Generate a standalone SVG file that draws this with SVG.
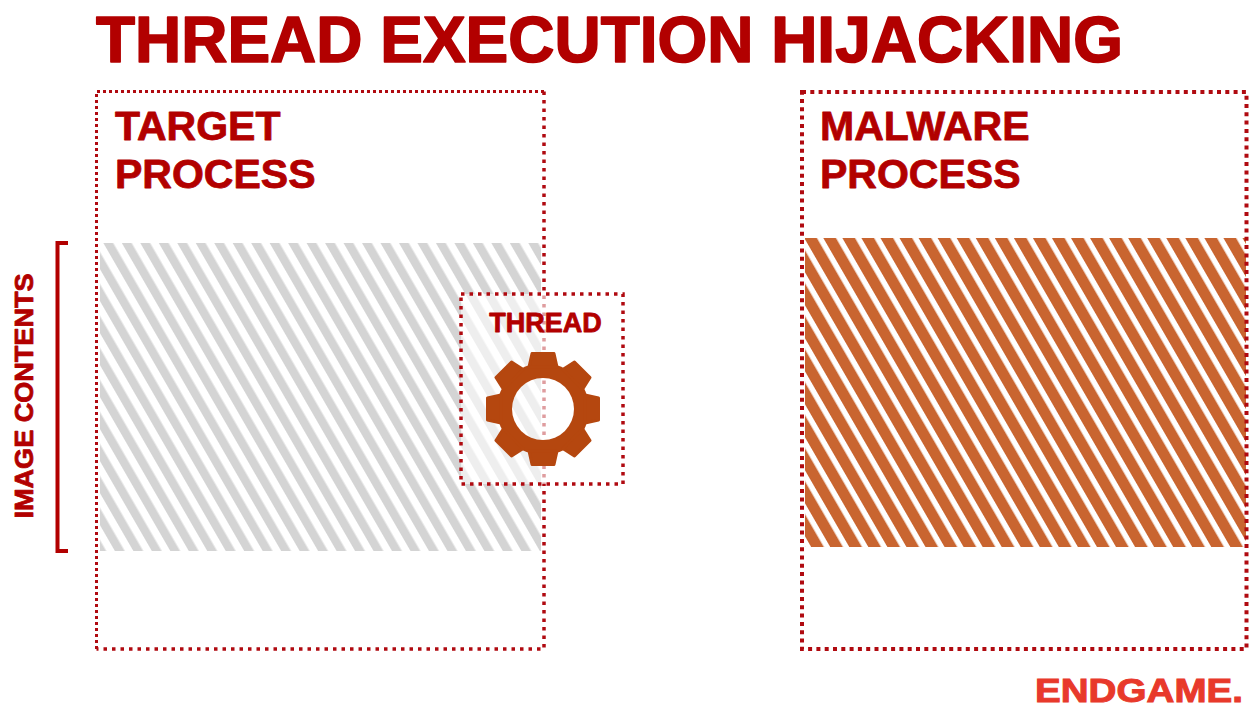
<svg xmlns="http://www.w3.org/2000/svg" width="1250" height="709" viewBox="0 0 1250 709">
  <style>
    .t { font-family: "Liberation Sans", Arial, sans-serif; font-weight: bold; fill: #b20000; stroke: #b20000; stroke-width: 0.8; stroke-linejoin: round; }
    .dotA { fill: none; stroke: #b00a10; stroke-width: 3; stroke-dasharray: 3 3; }
    .dotB { fill: none; stroke: #b00a10; stroke-width: 3.5; stroke-dasharray: 3.5 5; }
    .dotC { fill: none; stroke: #b00a10; stroke-width: 4; stroke-dasharray: 4 4.3; }
  </style>
  <defs>
    <pattern id="grayHatch" width="16" height="16" patternUnits="userSpaceOnUse" patternTransform="rotate(-30)">
      <rect x="0" y="0" width="8.5" height="16" fill="#d4d4d4"/>
    </pattern>
    <pattern id="orangeHatch" width="16.5" height="16" patternUnits="userSpaceOnUse" patternTransform="rotate(-30)">
      <rect x="0" y="0" width="11" height="16" fill="#c96530"/>
    </pattern>
    <mask id="gearHole" maskUnits="userSpaceOnUse" x="470" y="335" width="150" height="150">
      <rect x="470" y="335" width="150" height="150" fill="#fff"/>
      <circle cx="543" cy="409" r="31" fill="#000"/>
    </mask>
    <polygon id="tooth" points="-14,-42 -11,-55.5 11,-55.5 14,-42" fill="#b5470f" stroke="#b5470f" stroke-width="3" stroke-linejoin="round"/>
  </defs>

  <rect width="1250" height="709" fill="#fff"/>

  <text id="title" class="t" x="96" y="62" font-size="64" textLength="1027" lengthAdjust="spacingAndGlyphs" style="stroke-width:1.6">THREAD EXECUTION HIJACKING</text>

  <g id="image-contents">
    <path d="M68,243 H57.5 V551 H68" fill="none" stroke="#b20000" stroke-width="4"/>
    <text class="t" transform="translate(33,396) rotate(-90)" x="0" y="0" font-size="26" text-anchor="middle" textLength="245" lengthAdjust="spacingAndGlyphs">IMAGE CONTENTS</text>
  </g>

  <g id="target-process">
    <rect x="100" y="243" width="441" height="308" fill="url(#grayHatch)"/>
    <path class="dotA" d="M96.5,649 V91.5 H544"/>
    <path class="dotB" d="M544,91.5 V649 H96.5"/>
    <text class="t" x="115" y="140" font-size="41">TARGET</text>
    <text class="t" x="115" y="188" font-size="41">PROCESS</text>
  </g>

  <g id="thread">
    <rect x="461" y="294" width="162" height="190" fill="#fff" fill-opacity="0.6"/>
    <rect class="dotB" x="461" y="294" width="162" height="190"/>
    <text class="t" x="545.5" y="332" font-size="27" text-anchor="middle">THREAD</text>
    <g id="gear" mask="url(#gearHole)">
      <circle cx="543" cy="409" r="46" fill="#b5470f"/>
      <use href="#tooth" transform="translate(543,409) rotate(0)"/>
      <use href="#tooth" transform="translate(543,409) rotate(45)"/>
      <use href="#tooth" transform="translate(543,409) rotate(90)"/>
      <use href="#tooth" transform="translate(543,409) rotate(135)"/>
      <use href="#tooth" transform="translate(543,409) rotate(180)"/>
      <use href="#tooth" transform="translate(543,409) rotate(225)"/>
      <use href="#tooth" transform="translate(543,409) rotate(270)"/>
      <use href="#tooth" transform="translate(543,409) rotate(315)"/>
    </g>
  </g>

  <g id="malware-process">
    <rect x="805" y="238" width="441" height="309" fill="url(#orangeHatch)"/>
    <rect class="dotC" x="802" y="92" width="444.5" height="557"/>
    <text class="t" x="820" y="140" font-size="41">MALWARE</text>
    <text class="t" x="820" y="188" font-size="41">PROCESS</text>
  </g>

  <g id="connectors"/>

  <text id="logo" x="1035" y="702" font-family="'Liberation Sans', Arial, sans-serif" font-weight="bold" font-size="34" fill="#e8392b" stroke="#e8392b" stroke-width="1" textLength="208" lengthAdjust="spacingAndGlyphs">ENDGAME.</text>
</svg>
